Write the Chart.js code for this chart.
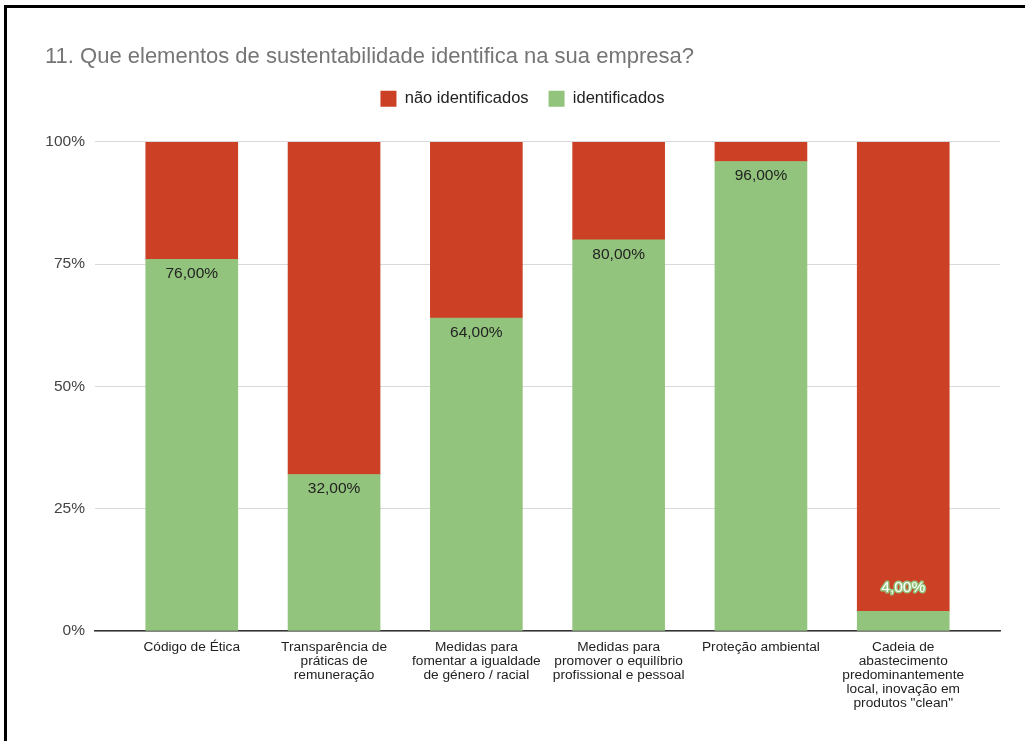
<!DOCTYPE html>
<html lang="pt">
<head>
<meta charset="utf-8">
<title>Elementos de sustentabilidade</title>
<script src="https://cdn.jsdelivr.net/npm/chart.js@4/dist/chart.umd.min.js"></script>
<style>
  html, body { margin: 0; padding: 0; background: #fff; overflow: hidden; }
  #wrap { position: relative; width: 1025px; height: 741px; }
  #moldura {
    position: absolute; left: 4px; top: 5px; width: 1100px; height: 800px;
    border-left: 3px solid #000; border-top: 3px solid #000; pointer-events: none;
  }
</style>
</head>
<body>
<div id="wrap">
  <canvas id="grafico" width="1025" height="741"></canvas>
  <div id="moldura"></div>
</div>
<script>
// === Dados ===
const categorias = [
  ["Código de Ética"],
  ["Transparência de", "práticas de", "remuneração"],
  ["Medidas para", "fomentar a igualdade", "de género / racial"],
  ["Medidas para", "promover o equilíbrio", "profissional e pessoal"],
  ["Proteção ambiental"],
  ["Cadeia de", "abastecimento", "predominantemente", "local, inovação em", "produtos \"clean\""]
];
const identificados = [76, 32, 64, 80, 96, 4];
const naoIdentificados = [24, 68, 36, 20, 4, 96];
const ticksY = [0, 25, 50, 75, 100];

const VERDE = "#93c47d";
const VERMELHO = "#cc4125";
const fonte = "'Liberation Sans', Arial, sans-serif";

// rótulos de percentagem nas barras verdes
const rotulos = {
  id: "rotulos",
  afterDatasetsDraw(chart) {
    const ctx = chart.ctx;
    const meta = chart.getDatasetMeta(0);
    ctx.save();
    ctx.font = "15.5px " + fonte;
    ctx.textAlign = "center";
    ctx.textBaseline = "middle";
    meta.data.forEach((bar, i) => {
      const txt = identificados[i].toFixed(2).replace(".", ",") + "%";
      const altura = bar.base - bar.y;
      if (altura > 30) {
        ctx.fillStyle = "#222";
        ctx.fillText(txt, bar.x, bar.y + 14.5);
      } else {
        ctx.lineWidth = 3;
        ctx.strokeStyle = VERDE;
        ctx.lineJoin = "round";
        ctx.strokeText(txt, bar.x, bar.y - 24);
        ctx.fillStyle = "#fff";
        ctx.fillText(txt, bar.x, bar.y - 24);
      }
    });
    ctx.restore();
  }
};

// espaço extra entre a legenda e a área do gráfico
const espacoLegenda = {
  id: "espacoLegenda",
  afterInit(chart) {
    const fit = chart.legend.fit;
    chart.legend.fit = function () {
      fit.call(this);
      this.height += 25;
    };
  }
};

new Chart(document.getElementById("grafico"), {
  type: "bar",
  data: {
    datasets: [
      {
        label: "identificados",
        data: identificados.map((v, i) => ({ x: i, y: v })),
        backgroundColor: VERDE,
        barThickness: 92
      },
      {
        label: "não identificados",
        data: naoIdentificados.map((v, i) => ({ x: i, y: v })),
        backgroundColor: VERMELHO,
        barThickness: 92
      }
    ]
  },
  plugins: [rotulos, espacoLegenda],
  options: {
    responsive: false,
    animation: false,
    layout: { padding: { left: 45, right: 25, top: 25, bottom: 10 } },
    plugins: {
      title: {
        display: true,
        text: "11. Que elementos de sustentabilidade identifica na sua empresa?",
        align: "start",
        color: "#757575",
        font: { family: fonte, size: 22, weight: "normal" },
        padding: { top: 19, bottom: 0 }
      },
      legend: {
        reverse: true,
        labels: {
          color: "#222",
          font: { family: fonte, size: 16.5 },
          boxWidth: 16,
          boxHeight: 16,
          padding: 20
        }
      },
      tooltip: { enabled: false }
    },
    scales: {
      x: {
        type: "linear",
        stacked: true,
        offset: false,
        min: -0.68,
        max: 5.68,
        afterBuildTicks: (s) => { s.ticks = categorias.map((c, i) => ({ value: i })); },
        afterFit: (s) => { s.height = 100; },
        border: { display: true, color: "#333", width: 1.5 },
        grid: { display: false },
        ticks: {
          autoSkip: false,
          maxRotation: 0,
          color: "#222",
          font: { family: fonte, size: 13.7, lineHeight: 1.02 },
          padding: 1,
          callback: (v) => categorias[v]
        }
      },
      y: {
        stacked: true,
        min: 0,
        max: 100,
        afterBuildTicks: (s) => { s.ticks = ticksY.map(v => ({ value: v })); },
        afterFit: (s) => { s.width = 50; },
        border: { display: false },
        grid: { color: "#d9d9d9", drawTicks: false },
        ticks: {
          color: "#444",
          font: { family: fonte, size: 15.5 },
          padding: 10,
          callback: (v) => v + "%"
        }
      }
    }
  }
});
</script>
</body>
</html>
